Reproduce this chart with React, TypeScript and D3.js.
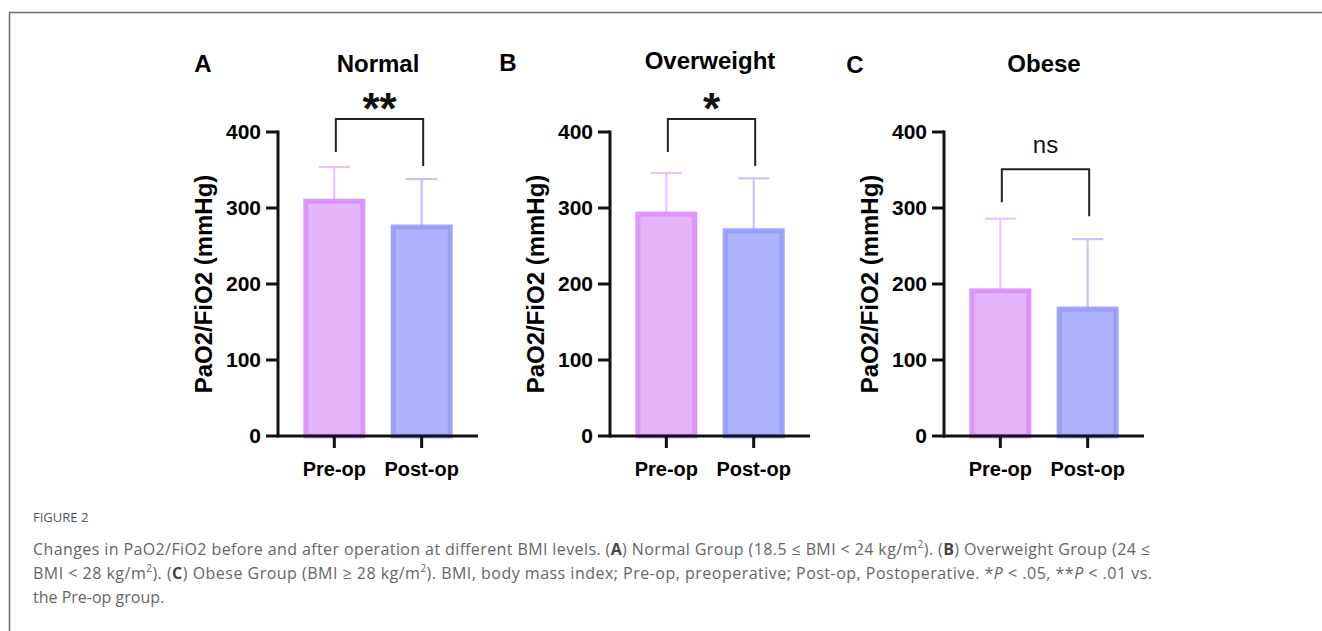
import React, { useEffect, useRef } from 'react';
import * as d3 from 'd3';

// values (PaO2/FiO2, mmHg)
const categories = ['Pre-op', 'Post-op'];
const panelLetters = ['A', 'B', 'C'];
const panelTitles = ['Normal', 'Overweight', 'Obese'];
const preopMean = [309, 292, 191];
const postopMean = [275, 270, 167];
const preopSD = [45, 54, 95];
const postopSD = [63, 69, 92];
const significance = ['**', '*', 'ns'];
const bracketLevel = [417, 417, 351];
const yTicks = [0, 100, 200, 300, 400];

// layout
const W = 1322;
const H = 631;
const axisLeft = [278, 610, 944];
const letterX = [203, 508, 855];
const letterY = [72, 71, 73];
const titleY = [72, 69, 72];
const FONT = "'Liberation Sans', Arial, sans-serif";
const CAP = "'Open Sans', 'Noto Sans', sans-serif";

const fills = ['#e5b5fc', '#aeb2fd'];
const strokes = ['#d98ef8', '#969af9'];
const errColors = ['#ebbefc', '#bfc1fd'];

export default function App() {
  const ref = useRef<SVGSVGElement>(null);

  useEffect(() => {
    const svg = d3.select(ref.current);
    svg.selectAll('*').remove();

    // frame
    svg.append('path')
      .attr('d', `M9.5,${H} L9.5,12.5 L${W},12.5`)
      .attr('fill', 'none')
      .attr('stroke', '#6b6b6b')
      .attr('stroke-width', 1.5);

    const y = d3.scaleLinear().domain([0, 400]).range([436, 132]);

    panelTitles.forEach((title, i) => {
      const x0 = axisLeft[i];
      const x = d3.scaleBand<string>()
        .domain(categories)
        .range([x0, x0 + 200])
        .paddingInner(0.29)
        .paddingOuter(0.29);
      const g = svg.append('g');
      const means = [preopMean[i], postopMean[i]];
      const sds = [preopSD[i], postopSD[i]];

      // error bars (upper only), drawn under bars
      categories.forEach((c, j) => {
        const cx = x(c)! + x.bandwidth() / 2;
        const top = y(means[j] + sds[j]);
        g.append('line')
          .attr('x1', cx).attr('x2', cx)
          .attr('y1', y(means[j])).attr('y2', top)
          .attr('stroke', errColors[j]).attr('stroke-width', 2);
        g.append('line')
          .attr('x1', cx - x.bandwidth() / 4).attr('x2', cx + x.bandwidth() / 4)
          .attr('y1', top).attr('y2', top)
          .attr('stroke', errColors[j]).attr('stroke-width', 2);
      });

      // bars
      categories.forEach((c, j) => {
        g.append('rect')
          .attr('x', x(c)! + 2.5)
          .attr('y', y(means[j]))
          .attr('width', x.bandwidth() - 5)
          .attr('height', y(0) - y(means[j]))
          .attr('fill', fills[j])
          .attr('stroke', strokes[j])
          .attr('stroke-width', 5)
          .attr('stroke-opacity', 0.9);
      });

      // axes
      const axisColor = '#111';
      g.append('line')
        .attr('x1', x0).attr('x2', x0)
        .attr('y1', y(400) - 1.5).attr('y2', y(0) + 1.5)
        .attr('stroke', axisColor).attr('stroke-width', 3);
      g.append('line')
        .attr('x1', x0).attr('x2', x0 + 200)
        .attr('y1', y(0)).attr('y2', y(0))
        .attr('stroke', axisColor).attr('stroke-width', 3);

      yTicks.forEach(t => {
        g.append('line')
          .attr('x1', x0 - 12).attr('x2', x0)
          .attr('y1', y(t)).attr('y2', y(t))
          .attr('stroke', axisColor).attr('stroke-width', 3);
        g.append('text')
          .attr('x', x0 - 17).attr('y', y(t)).attr('dy', '0.35em')
          .attr('text-anchor', 'end')
          .attr('font-family', FONT).attr('font-weight', 'bold').attr('font-size', 21)
          .attr('fill', '#000')
          .text(t);
      });

      categories.forEach(c => {
        const cx = x(c)! + x.bandwidth() / 2;
        g.append('line')
          .attr('x1', cx).attr('x2', cx)
          .attr('y1', y(0)).attr('y2', y(0) + 12)
          .attr('stroke', axisColor).attr('stroke-width', 3);
        g.append('text')
          .attr('x', cx).attr('y', 476)
          .attr('text-anchor', 'middle')
          .attr('font-family', FONT).attr('font-weight', 'bold').attr('font-size', 20)
          .attr('fill', '#000')
          .text(c);
      });

      // y label
      g.append('text')
        .attr('transform', `translate(${x0 - 66},${(y(0) + y(400)) / 2}) rotate(-90)`)
        .attr('text-anchor', 'middle')
        .attr('font-family', FONT).attr('font-weight', 'bold').attr('font-size', 24)
        .attr('fill', '#000')
        .text('PaO2/FiO2 (mmHg)');

      // title + panel letter
      g.append('text')
        .attr('x', x0 + 100).attr('y', titleY[i])
        .attr('text-anchor', 'middle')
        .attr('font-family', FONT).attr('font-weight', 'bold').attr('font-size', 24)
        .text(title);
      g.append('text')
        .attr('x', letterX[i]).attr('y', letterY[i])
        .attr('text-anchor', 'middle')
        .attr('font-family', FONT).attr('font-weight', 'bold').attr('font-size', 24)
        .text(panelLetters[i]);

      // significance bracket
      const lx = x(categories[0])! + x.bandwidth() / 2 + 1.5;
      const rx = x(categories[1])! + x.bandwidth() / 2 + 1.5;
      const by = y(bracketLevel[i]);
      g.append('path')
        .attr('d', `M${lx},${by + 33} L${lx},${by} L${rx},${by} L${rx},${by + 47}`)
        .attr('fill', 'none')
        .attr('stroke', '#222')
        .attr('stroke-width', 2);
      const isNs = significance[i] === 'ns';
      g.append('text')
        .attr('x', (lx + rx) / 2).attr('y', isNs ? by - 16 : by + 5)
        .attr('text-anchor', 'middle')
        .attr('font-family', FONT)
        .attr('font-weight', isNs ? 'normal' : 'bold')
        .attr('font-size', isNs ? 24 : 44)
        .attr('fill', '#111')
        .text(significance[i]);
    });

    // caption
    svg.append('text')
      .attr('x', 33).attr('y', 522)
      .attr('font-family', CAP).attr('font-size', 13)
      .attr('fill', '#555')
      .text('FIGURE 2');

    const cap = svg.append('g')
      .attr('font-family', CAP).attr('font-size', 16).attr('fill', '#666');

    const addLine = (yPos: number, len: number | null, parts: [string, string?][]) => {
      const t = cap.append('text')
        .attr('x', 33).attr('y', yPos);
      if (len) t.attr('textLength', len).attr('lengthAdjust', 'spacing');
      parts.forEach(([s, style]) => {
        const ts = t.append('tspan').text(s);
        if (style === 'b') ts.attr('font-weight', 'bold').attr('fill', '#444');
        if (style === 'i') ts.attr('font-style', 'italic');
        if (style === 'sup') ts.attr('font-size', 10).attr('baseline-shift', 'super');
      });
    };

    addLine(555, 1117, [
      ['Changes in PaO2/FiO2 before and after operation at different BMI levels. ('],
      ['A', 'b'],
      [') Normal Group (18.5 \u2264 BMI < 24 kg/m'],
      ['2', 'sup'],
      ['). ('],
      ['B', 'b'],
      [') Overweight Group (24 \u2264'],
    ]);
    addLine(579, 1119, [
      ['BMI < 28 kg/m'],
      ['2', 'sup'],
      ['). ('],
      ['C', 'b'],
      [') Obese Group (BMI \u2265 28 kg/m'],
      ['2', 'sup'],
      ['). BMI, body mass index; Pre-op, preoperative; Post-op, Postoperative. *'],
      ['P', 'i'],
      [' < .05, **'],
      ['P', 'i'],
      [' < .01 vs.'],
    ]);
    addLine(603, null, [['the Pre-op group.']]);
  }, []);

  return (
    <svg
      ref={ref}
      width={W}
      height={H}
      style={{ position: 'absolute', left: 0, top: 0, background: '#fff' }}
    />
  );
}
